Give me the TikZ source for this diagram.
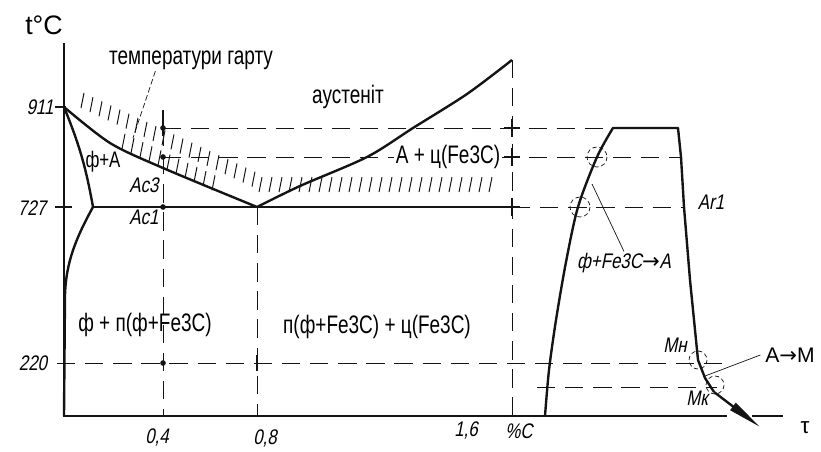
\documentclass[tikz,border=0pt]{standalone}
\usepackage{fontspec}
\setmainfont{Liberation Sans}
\newfontfamily\gostfont[FakeStretch=0.75]{Liberation Sans}
\newfontfamily\gostital[FakeStretch=0.8,FakeSlant=0.2]{Liberation Sans}
\newfontfamily\arrowfont{DejaVu Sans}
\usepackage{tikz}
\usetikzlibrary{arrows.meta,calc}
\definecolor{DraftInk}{RGB}{20,20,20}
\newcommand{\hatchrow}[4]{%
    \foreach \x in {#1,#2,...,#3} \draw[hatch] ({\x},{#4}) -- ++(-3,15);
}

\begin{document}
\begin{tikzpicture}[x=0.025cm,y=-0.025cm,
    curve/.style={DraftInk,line width=1.7pt,line join=round},
    axisline/.style={DraftInk,line width=0.8pt},
    guide/.style={DraftInk,line width=0.7pt,dash pattern=on 13pt off 7pt},
    hatch/.style={DraftInk,line width=0.7pt},
    leader/.style={DraftInk,line width=0.5pt},
    ring/.style={DraftInk,line width=0.5pt,dash pattern=on 3pt off 2pt},
    zone/.style={font=\gostfont\fontsize{18}{18}\selectfont,inner sep=1pt},
    valnum/.style={font=\gostital\fontsize{15}{15}\selectfont,inner sep=1pt},
    dotmark/.style={circle,fill=DraftInk,inner sep=0pt,minimum size=4pt}]
    \useasboundingbox (0,0) rectangle (821,452);
    % axes
    \coordinate (O) at (64,416);
    \draw[axisline] (64,43) -- (O) -- (727,416);
    \draw[axisline] (752,416) -- (783,416);
    \draw[axisline] (55,107) -- (66,107);
    \draw[axisline] (55,207) -- (72,207);
    \node[font=\fontsize{19}{19}\selectfont] (tc) at (44,25) {t°C};
    \node[font=\fontsize{16}{16}\selectfont] (tau) at (805,428) {τ};
    \node[valnum] (v911) at (40,107) {911};
    \node[valnum] (v727) at (32,208) {727};
    \node[valnum] (v220) at (33,363) {220};
    \node[valnum] (c04) at (157,437) {0,4};
    \node[valnum] (c08) at (265,438) {0,8};
    \node[valnum] (c16) at (466,430) {1,6};
    \node[valnum] (cpc) at (519,431) {\%C};
    % guide lines
    \draw[axisline] (163,110) -- (163,136);
    \draw[guide] (163,128) -- (163,416);
    \draw[guide] (257,207) -- (257,416);
    \draw[guide] (512,60) -- (512,416);
    \draw[guide] (163,128) -- (613,128);
    \draw[guide] (163,157) -- (681,157);
    \draw[guide] (512,207) -- (684,207);
    \draw[guide] (57,363) -- (722,363);
    \draw[guide] (537,387) -- (717,387);
    \foreach \y in {128,157,207}
        \draw[axisline] (512,\y-9) -- (512,\y+9) (504,\y) -- (520,\y);
    \draw[axisline] (257,355) -- (257,371);
    \foreach \y in {128,157,207,363}
        \node[dotmark] (d\y) at (163,\y) {};
    % hatching
    \hatchrow{84}{93}{255}{93+0.46*(\x-84)}
    \hatchrow{125}{134}{215}{115+0.46*(\x-84)}
    \hatchrow{262}{272}{500}{177}
    % Fe-C lines
    \coordinate (G) at (64,107);
    \coordinate (P) at (93,207);
    \coordinate (S) at (257,207);
    \coordinate (E) at (512,60);
    \draw[curve] plot[smooth] coordinates {(64,107) (110,143) (163,168) (257,207)};
    \draw[curve] (G) to[bend left=6] (P);
    \draw[curve] (P) .. controls (76,238) and (66,262) .. (65,295) -- (O);
    \draw[curve] (P) -- (512,207);
    \draw[curve] plot[smooth] coordinates {(257,207) (300,186) (367,157) (413,128) (467,94) (512,60)};
    % heating and cooling
    \draw[curve] plot[smooth] coordinates {(545,416) (549,370) (556,320) (566,262) (578,207) (597,157) (613,128)}
        -- (678,128) -- (681,157) -- (684,207) -- (690,280) -- (698,360) -- (705,378) -- (714,392);
    \draw[curve,-{Triangle[length=0.85cm,width=0.22cm]}] (714,392) -- (760,427);
    \draw[ring] (597,157) circle[radius=10];
    \draw[ring] (580,207) circle[radius=10];
    \draw[ring] (698,360) circle[radius=9];
    \draw[ring] (715,385) circle[radius=9];
    % labels
    \node[zone] (tgart) at (191,60) {температури гарту};
    \node[zone] (aust) at (348,97) {аустеніт};
    \node[zone,fill=white] (acem) at (448,157) {А + ц(Fe3C)};
    \node[zone,font=\gostfont\fontsize{16}{16}\selectfont] (fa) at (103,162) {ф+А};
    \node[zone] (lowleft) at (145,325) {ф + п(ф+Fe3C)};
    \node[zone] (lowright) at (377,327) {п(ф+Fe3C) + ц(Fe3C)};
    \node[valnum] (ac3) at (144,185) {Ac3};
    \node[valnum] (ac1) at (144,217) {Ac1};
    \node[valnum] (ar1) at (711,202) {Ar1};
    \node[valnum] (mn) at (675,345) {Мн};
    \node[valnum] (mk) at (697,398) {Мк};
    \node[valnum] (trans) at (624,263) {ф+Fe3C{\arrowfont →}A};
    \node[font=\fontsize{15}{15}\selectfont] (am) at (790,355) {A{\arrowfont →}M};
    % leaders
    \coordinate (hl) at (133,138);
    \coordinate (cl) at (592,184);
    \coordinate (ml) at (705,376);
    \draw[leader,dash pattern=on 4pt off 2pt] (tgart.south west) ++(48,0) -- (hl);
    \draw[leader] (cl) -- (trans.north);
    \draw[leader] (am.west) -- (ml);
\end{tikzpicture}
\end{document}
